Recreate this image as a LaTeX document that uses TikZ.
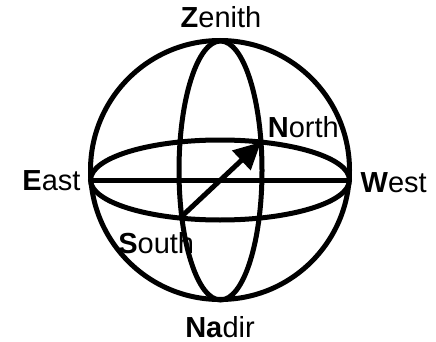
\documentclass[tikz,border=0pt]{standalone}
\usepackage{fontspec}
\setmainfont{Liberation Sans}
\usetikzlibrary{arrows.meta}
\begin{document}
\begin{tikzpicture}[x=1pt,y=-1pt,
  ln/.style={line width=5pt},
  lbl/.style={font=\fontsize{29}{33}\selectfont, anchor=base, inner sep=0pt}]
\useasboundingbox (0,0) rectangle (436,342);
\draw[ln] (220,170) circle[radius=129.5pt];
\draw[ln] (220,180) ellipse[x radius=129.5pt, y radius=40pt];
\draw[ln] (220.5,170.5) ellipse[x radius=41.5pt, y radius=129.5pt];
\coordinate (E) at (90.5,180);
\coordinate (W) at (349.5,180);
\coordinate (S) at (180,218);
\coordinate (N) at (261,142);
\draw[ln] (E) -- (W);
\draw[ln, -{Triangle[length=27pt,width=26pt]}] (S) -- (N);
\node[lbl] (zen) at (221,28) {\textbf{Z}enith};
\node[lbl] (east) at (51.5,190) {\textbf{E}ast};
\node[lbl] (west) at (393.7,192) {\textbf{W}est};
\node[lbl] (north) at (303.3,137) {\textbf{N}orth};
\node[lbl] (south) at (156.2,253) {\textbf{S}outh};
\node[lbl] (nadir) at (220,337) {\textbf{Na}dir};
\end{tikzpicture}
\end{document}
